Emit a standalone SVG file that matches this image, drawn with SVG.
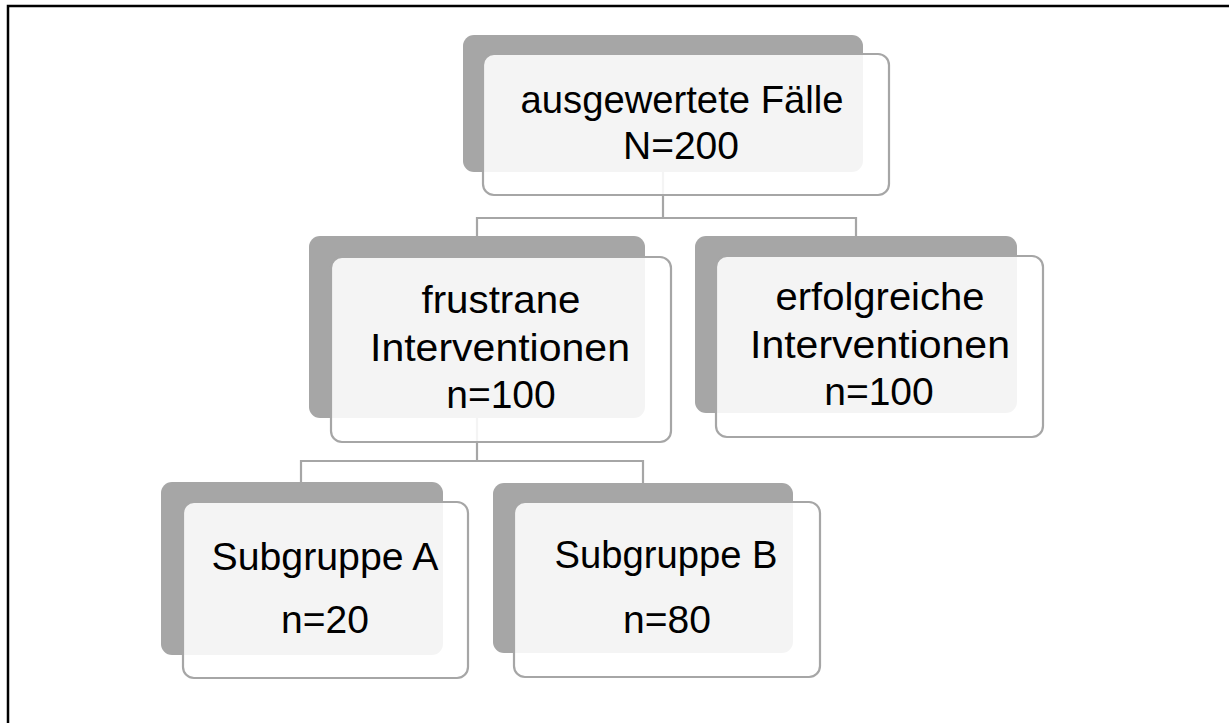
<svg xmlns="http://www.w3.org/2000/svg" width="1229" height="723" viewBox="0 0 1229 723">
<style>
.back{fill:#a6a6a6;}
.front{fill:#ffffff;fill-opacity:0.88;stroke:#a6a6a6;stroke-width:2.2;}
.conn{fill:none;stroke:#a6a6a6;stroke-width:2.2;}
.lbl{font-family:"Liberation Sans",Arial,sans-serif;font-size:39px;fill:#000;text-anchor:middle;}
</style>
<rect x="0" y="0" width="1229" height="723" fill="#ffffff"/>
<path d="M8,723 V6 H1229" fill="none" stroke="#000" stroke-width="2.5"/>
<g id="connectors">
<path class="conn" d="M663,172 V218 M477,236 V218 H856 V236"/>
<path class="conn" d="M477,418 V461 M301,482 V461 H643 V483"/>
</g>
<g id="node-root">
<rect class="back" x="463" y="35" width="400" height="137" rx="11"/>
<rect class="front" x="483" y="54" width="406" height="141" rx="11"/>
<text class="lbl" x="682" y="113" textLength="323" lengthAdjust="spacingAndGlyphs">ausgewertete Fälle</text>
<text class="lbl" x="681" y="159">N=200</text>
</g>
<g id="node-frustrane">
<rect class="back" x="309" y="236" width="336" height="182" rx="11"/>
<rect class="front" x="331" y="257" width="340" height="185" rx="11"/>
<text class="lbl" x="501" y="313" textLength="159" lengthAdjust="spacingAndGlyphs">frustrane</text>
<text class="lbl" x="500" y="361" textLength="260" lengthAdjust="spacingAndGlyphs">Interventionen</text>
<text class="lbl" x="501" y="408">n=100</text>
</g>
<g id="node-erfolgreich">
<rect class="back" x="695" y="236" width="322" height="177" rx="11"/>
<rect class="front" x="716" y="256" width="327" height="181" rx="11"/>
<text class="lbl" x="880" y="310" textLength="209" lengthAdjust="spacingAndGlyphs">erfolgreiche</text>
<text class="lbl" x="880" y="358" textLength="260" lengthAdjust="spacingAndGlyphs">Interventionen</text>
<text class="lbl" x="879" y="405">n=100</text>
</g>
<g id="node-subA">
<rect class="back" x="161" y="482" width="282" height="173" rx="11"/>
<rect class="front" x="183" y="502" width="285" height="176" rx="11"/>
<text class="lbl" x="325" y="570" textLength="227" lengthAdjust="spacingAndGlyphs">Subgruppe A</text>
<text class="lbl" x="325" y="633">n=20</text>
</g>
<g id="node-subB">
<rect class="back" x="493" y="483" width="300" height="170" rx="11"/>
<rect class="front" x="514" y="502" width="306" height="175" rx="11"/>
<text class="lbl" x="666" y="568" textLength="223" lengthAdjust="spacingAndGlyphs">Subgruppe B</text>
<text class="lbl" x="667" y="633">n=80</text>
</g>
</svg>
